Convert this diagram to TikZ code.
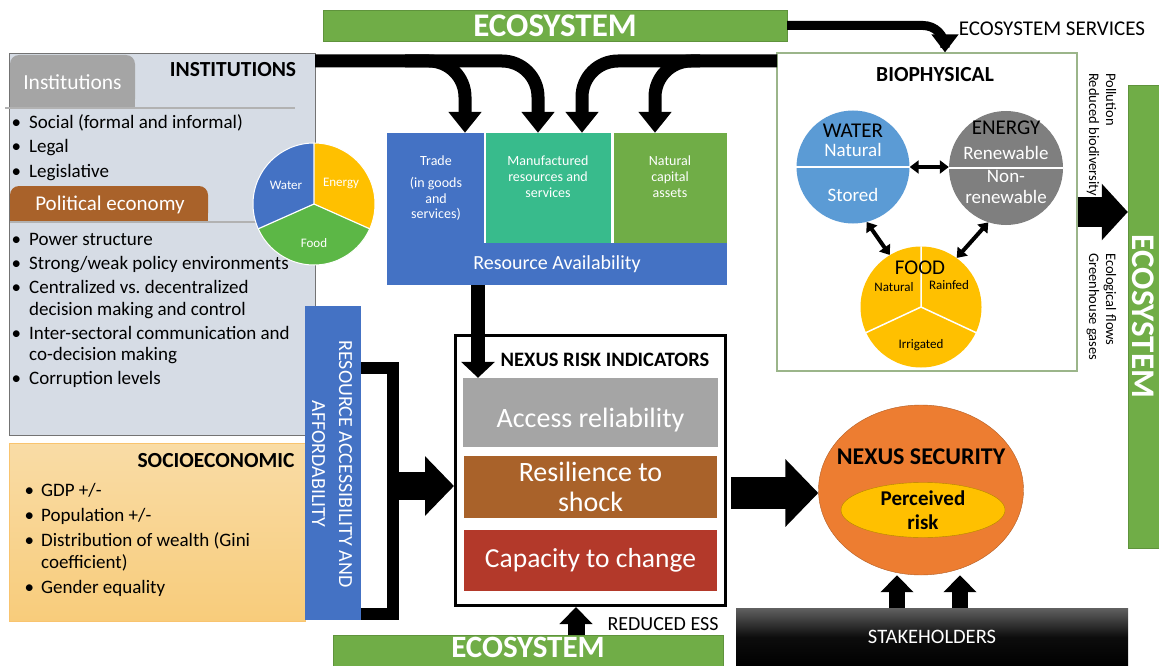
\documentclass[tikz,border=0pt]{standalone}
\usepackage{fontspec}
\setmainfont{Carlito}
\usetikzlibrary{arrows.meta,shapes.geometric}

\definecolor{ecogreen}{HTML}{70AD47}
\definecolor{foodgreen}{HTML}{5CB746}
\definecolor{accblue}{HTML}{4472C4}
\definecolor{lightblue}{HTML}{5B9BD5}
\definecolor{mfteal}{HTML}{38BB8C}
\definecolor{instbg}{HTML}{D6DCE5}
\definecolor{instgray}{HTML}{A5A5A5}
\definecolor{polbrown}{HTML}{A9622A}
\definecolor{capred}{HTML}{B3392A}
\definecolor{nexorange}{HTML}{ED7D31}
\definecolor{gold}{HTML}{FFC000}
\definecolor{sociotop}{HTML}{F9DCA6}
\definecolor{sociobot}{HTML}{F8CC7B}
\definecolor{energygray}{HTML}{7F7F7F}
\definecolor{biogreen}{HTML}{9BB58A}

\newcommand{\fsz}[2]{\fontsize{#1}{#2}\selectfont}

\tikzset{
  ecobar/.style={fill=ecogreen, draw=ecogreen!85!black, text=white, font=\bfseries\fsz{33}{36}, inner sep=0pt},
  band/.style={line width=13pt, rounded corners=36pt, -{Triangle[width=32pt,length=21pt]}},
  bigarrow/.style n args={3}{line width=#1, -{Triangle[width=#2,length=#3]}},
  dblarrow/.style={line width=4pt, {Triangle[width=13pt,length=9pt]}-{Triangle[width=13pt,length=9pt]}},
}

\begin{document}
\begin{tikzpicture}[x=1pt,y=-1pt,
  item/.style={anchor=base west, inner sep=0pt, font=\fsz{19}{23}},
  tab/.style={rounded corners=9pt, inner sep=0pt},
  box/.style={inner sep=0pt, text=white},
  head/.style={font=\bfseries\fsz{21.5}{24}, inner sep=0pt},
  circ/.style={circle, inner sep=0pt}]
\useasboundingbox (0,0) rectangle (1159,666);

% institutions
\node[draw=black!55, fill=instbg, minimum width=306pt, minimum height=382pt, inner sep=0pt] (inst) at (162,244) {};
\node[tab, fill=instgray, minimum width=125pt, minimum height=53pt] (insttab) at (72.5,81.5) {};
\fill[instgray] (insttab.west) rectangle (insttab.south east);
\node[box, font=\fsz{21.5}{24}] (insttxt) at (72.5,82) {Institutions};
\draw[black!30, line width=1.2pt] (5,108) -- (295,108);
\node[head] (insthead) at (233,70) {INSTITUTIONS};
\node[tab, fill=polbrown, minimum width=198pt, minimum height=36pt] (poltab) at (109,204) {};
\fill[polbrown] (poltab.west) rectangle (poltab.south east);
\node[box, font=\fsz{21}{24}] (poltxt) at (110,205) {Political economy};
\draw[black!30, line width=1.2pt] (10,222) -- (313,222);
\foreach \yb/\hb/\txt [count=\i] in {129/1/{Social (formal and informal)}, 153/1/Legal, 177/1/Legislative,
    245/1/Power structure, 269/1/{Strong/weak policy environments}, 293/1/{Centralized vs.\ decentralized},
    315/0/decision making and control, 339/1/Inter-sectoral communication and, 360/0/co-decision making,
    384/1/Corruption levels}
  \node[item] (inst\i) at (29,\yb) {\ifnum\hb=1\llap{\textbullet\hspace{8pt}}\fi\txt};

% socioeconomic
\node[top color=sociotop, bottom color=sociobot, draw=sociobot!90!orange, minimum width=296pt, minimum height=178pt, inner sep=0pt] (socio) at (157,532) {};
\node[head] (sochead) at (216,461) {SOCIOECONOMIC};
\foreach \yb/\hb/\txt [count=\i] in {496/1/{GDP +/-}, 521/1/{Population +/-}, 546/1/{Distribution of wealth (Gini},
    568/0/{coefficient)}, 593/1/Gender equality}
  \node[item] (soc\i) at (41,\yb) {\ifnum\hb=1\llap{\textbullet\hspace{7pt}}\fi\txt};

% water-energy-food pie
\coordinate (pc) at (314,204);
\fill[gold] (pc) -- ++(90:61pt) arc[start angle=90, end angle=-24, radius=61pt] -- cycle;
\fill[foodgreen] (pc) -- ++(-24:61pt) arc[start angle=-24, end angle=-156, radius=61pt] -- cycle;
\fill[accblue] (pc) -- ++(204:61pt) arc[start angle=204, end angle=90, radius=61pt] -- cycle;
\draw[white, line width=1.2pt] (pc) -- ++(90:61pt) (pc) -- ++(-24:61pt) (pc) -- ++(204:61pt);
\draw[white, line width=1pt] (pc) circle[radius=61pt];
\node[box, font=\fsz{13}{15}] (piew) at (286,185) {Water};
\node[box, font=\fsz{13}{15}] (piee) at (341,183) {Energy};
\node[box, font=\fsz{13}{15}] (pief) at (314,243) {Food};

% resource accessibility
\node[box, fill=accblue, minimum width=56pt, minimum height=314pt] (raa) at (333,463) {};
\node[box, rotate=-90, align=center, font=\fsz{20}{27}] (raatxt) at (332,464) {RESOURCE ACCESSIBILITY AND\\AFFORDABILITY};
\draw[line width=12pt] ([yshift=95pt]raa.east) -- ++(32,0) |- ([yshift=-151pt]raa.east);

% resource availability
\node[box, fill=accblue, minimum width=97pt, minimum height=110pt] (trade) at (435.5,188) {};
\node[box, fill=mfteal, minimum width=125pt, minimum height=110pt] (mf) at (548.5,188) {};
\node[box, fill=ecogreen, minimum width=113pt, minimum height=110pt] (nat) at (670.5,188) {};
\node[box, align=center, font=\fsz{14}{15.5}] (tradetxt) at (436,188) {Trade\\[7pt](in goods\\and\\services)};
\node[box, align=center, font=\fsz{14}{16}] (mftxt) at (548,177) {Manufactured\\resources and\\services};
\node[box, align=center, font=\fsz{14}{16}] (nattxt) at (670,177) {Natural\\capital\\assets};
\node[box, fill=accblue, minimum width=340pt, minimum height=42pt, font=\fsz{20}{22}] (ra) at (557,264) {Resource Availability};

% biophysical
\node[draw=biogreen, line width=1.2pt, fill=white, minimum width=300pt, minimum height=318pt, inner sep=0pt] (bio) at (927,212) {};
\node[head] (biohead) at (935,75) {BIOPHYSICAL};
\node[circ, fill=lightblue, minimum size=113pt] (water) at (853,167) {};
\draw[white, line width=1.2pt] (water.west) -- (water.east);
\node[circ, fill=energygray, minimum size=114pt] (energy) at (1006,168) {};
\draw[white, line width=1.2pt] (energy.west) -- (energy.east);
\node[circ, fill=gold, minimum size=121pt] (food) at (921,307) {};
\draw[white, line width=1.5pt] (food.center) -- (food.north) (food.center) -- (food.205) (food.center) -- (food.-25);
\node[font=\fsz{21}{24}] (wtitle) at (853,131) {WATER};
\node[box, font=\fsz{19}{22}] (wnat) at (853,150) {Natural};
\node[box, font=\fsz{19}{22}] (wsto) at (853,195) {Stored};
\node[font=\fsz{21}{24}] (etitle) at (1006,128) {ENERGY};
\node[box, font=\fsz{19}{22}] (eren) at (1006,153) {Renewable};
\node[box, font=\fsz{19}{22}] (enon) at (1006,176) {Non-};
\node[box, font=\fsz{19}{22}] (enonr) at (1006,197) {renewable};
\node[font=\fsz{21}{24}] (ftitle) at (920,268) {FOOD};
\node[font=\fsz{13}{15}] (fnat) at (894,287) {Natural};
\node[font=\fsz{13}{15}] (frain) at (949,285) {Rainfed};
\node[font=\fsz{13}{15}] (firr) at (921,345) {Irrigated};
\draw[dblarrow] (water.east) -- (water.east -| energy.west);
\draw[dblarrow] (water.-76) -- (food.121);
\draw[dblarrow] (energy.-108) -- (food.54);

% ecosystem
\node[ecobar, minimum width=464pt, minimum height=31pt] (ecotop) at (555,25.5) {ECOSYSTEM};
\node[ecobar, minimum width=390pt, minimum height=31pt] (ecobot) at (528,651) {};
\node[box, font=\bfseries\fsz{31}{34}] (ecobottxt) at (528,647.5) {ECOSYSTEM};
\node[ecobar, rotate=-90, minimum width=463pt, minimum height=31pt] (ecoright) at (1143.5,316.5) {ECOSYSTEM};
\node[font=\fsz{21}{24}] (estxt) at (1052,29) {ECOSYSTEM SERVICES};
\draw[bigarrow={9pt}{26pt}{18pt}, rounded corners=22pt] (ecotop.east) -| ([xshift=18pt]bio.north);
\node[rotate=-90, anchor=west, align=left, inner sep=0pt, font=\fsz{14.5}{17}] (pollu) at (1101.5,73) {Pollution\\Reduced biodiversity};
\node[rotate=-90, anchor=west, align=left, inner sep=0pt, font=\fsz{14.5}{17}] (ecoflow) at (1101.5,253) {Ecological flows\\Greenhouse gases};
\draw[bigarrow={30pt}{55pt}{26pt}] (bio.east) -- (bio.east -| ecoright.south);

\coordinate (bandL) at (315,61);
\coordinate (bandR) at (777,61);
\draw[band] (bandL) -| ([xshift=-10.5pt]mf.north);
\draw[band] ([xshift=90pt]bandL) -| ([xshift=29.5pt]trade.north);
\draw[band] (bandR) -| ([xshift=33.5pt]mf.north);
\draw[band] ([xshift=-77pt]bandR) -| ([xshift=-15.5pt]nat.north);

% nexus risk indicators
\node[draw, line width=3pt, fill=white, minimum width=270pt, minimum height=270pt, inner sep=0pt] (nexus) at (590.5,470.5) {};
\node[font=\bfseries\fsz{20.5}{24}] (nrihead) at (605,360) {NEXUS RISK INDICATORS};
\node[box, fill=instgray, minimum width=255pt, minimum height=69pt, text height=30pt, text depth=1pt, font=\fsz{28}{30}] (acc) at (590.5,412.5) {Access reliability};
\node[box, fill=polbrown, minimum width=253pt, minimum height=62pt, align=center, font=\fsz{28}{30}] (res) at (590.5,487) {Resilience to\\shock};
\node[box, fill=capred, minimum width=253pt, minimum height=61pt, font=\fsz{27.5}{30}] (cap) at (590.5,560.5) {Capacity to change};
\draw[bigarrow={14pt}{33pt}{16pt}] ([xshift=-79pt]ra.south) -- ([xshift=-79pt]ra.south |- acc.north);
\coordinate (brk) at (393,486);
\draw[bigarrow={28pt}{58pt}{29pt}] (brk) -- (brk -| nexus.west);
\draw[bigarrow={17pt}{32pt}{17pt}] ([xshift=48pt]ecobot.north) -- ([xshift=48pt]ecobot.north |- nexus.south);
\node[font=\fsz{20}{22}] (ress) at (663,624) {REDUCED ESS};

% nexus security
\node[ellipse, fill=nexorange, draw=nexorange!75!black, minimum width=205pt, minimum height=170pt, inner sep=0pt] (sec) at (921,490) {};
\node[font=\bfseries\fsz{24}{26}] (sechead) at (921,457) {NEXUS SECURITY};
\node[ellipse, fill=gold, draw=gold!70!black, minimum width=164pt, minimum height=54pt, inner sep=0pt, align=center, font=\bfseries\fsz{21}{24}] (risk) at (923,510) {Perceived\\risk};
\coordinate (nxo) at (731,493);
\draw[bigarrow={32pt}{66pt}{33pt}] (nxo) -- (nxo -| sec.west);
\node[top color=black!62, bottom color=black, middle color=black!95, minimum width=392pt, minimum height=58pt, text=white, font=\fsz{20.5}{22}, inner sep=0pt] (stake) at (932,637) {STAKEHOLDERS};
\draw[bigarrow={16pt}{32pt}{17pt}] ([xshift=-35pt]stake.north) -- ([xshift=-35pt]stake.north |- sec.south);
\draw[bigarrow={16pt}{32pt}{17pt}] ([xshift=28pt]stake.north) -- ([xshift=28pt]stake.north |- sec.south);
\end{tikzpicture}
\end{document}
